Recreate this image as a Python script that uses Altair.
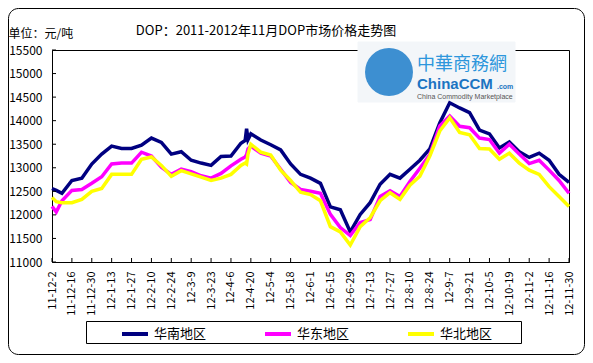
import altair as alt
import pandas as pd

FONT = "Noto Sans CJK SC"

series_names = ["华南地区", "华东地区", "华北地区"]
series_colors = ["#000080", "#FF00FF", "#FFFF00"]

dates = [
    "2011-12-02", "2011-12-05", "2011-12-09", "2011-12-16", "2011-12-23", "2011-12-30",
    "2012-01-06", "2012-01-13", "2012-01-20", "2012-01-27", "2012-02-03", "2012-02-10",
    "2012-02-17", "2012-02-24", "2012-03-02", "2012-03-09", "2012-03-16", "2012-03-23",
    "2012-03-30", "2012-04-06", "2012-04-13", "2012-04-16", "2012-04-17", "2012-04-18",
    "2012-04-20", "2012-04-27", "2012-05-04", "2012-05-11", "2012-05-18", "2012-05-25",
    "2012-06-01", "2012-06-08", "2012-06-15", "2012-06-22", "2012-06-29", "2012-07-06",
    "2012-07-13", "2012-07-20", "2012-07-27", "2012-08-03", "2012-08-10", "2012-08-17",
    "2012-08-24", "2012-08-31", "2012-09-07", "2012-09-14", "2012-09-21", "2012-09-28",
    "2012-10-05", "2012-10-12", "2012-10-19", "2012-10-26", "2012-11-02", "2012-11-09",
    "2012-11-16", "2012-11-23", "2012-11-30",
]

south = [
    12560, 12520, 12460, 12730, 12780, 13080,
    13290, 13460, 13410, 13410, 13480, 13630,
    13540, 13290, 13340, 13160, 13100, 13050,
    13240, 13250, 13520, 13580, 13830, 13600,
    13720, 13590, 13490, 13380, 13080, 12860,
    12780, 12670, 12170, 12110, 11640, 12010,
    12260, 12650, 12860, 12780, 12970, 13160,
    13400, 13950, 14380, 14270, 14170, 13800,
    13720, 13420, 13550, 13340, 13220, 13310,
    13160, 12860, 12690,
]

east = [
    12180, 12060, 12300, 12520, 12540, 12670,
    12810, 13080, 13100, 13100, 13330, 13250,
    13010, 12860, 12970, 12920, 12830, 12780,
    12880, 13040, 13180, 13230, 13280, 13400,
    13460, 13310, 13250, 12970, 12690, 12540,
    12500, 12460, 12010, 11730, 11560, 11840,
    11900, 12390, 12510, 12390, 12710, 12990,
    13280, 13890, 14100, 13880, 13850, 13630,
    13600, 13310, 13500, 13290, 13090, 13160,
    12950, 12730, 12460,
]

north = [
    12370, 12280, 12260, 12260, 12330, 12500,
    12560, 12860, 12860, 12860, 13180, 13230,
    13050, 12820, 12940, 12870, 12800, 12730,
    12780, 12860, 13050, 13100, 13080, 13290,
    13500, 13330, 13270, 12950, 12730, 12480,
    12430, 12300, 11750, 11640, 11360, 11750,
    11940, 12300, 12470, 12330, 12630, 12820,
    13250, 13780, 14060, 13750, 13700, 13410,
    13400, 13180, 13310, 13100, 12950, 12860,
    12600, 12390, 12180,
]

tick_dates = [
    "2011-12-02", "2011-12-16", "2011-12-30", "2012-01-13", "2012-01-27", "2012-02-10",
    "2012-02-24", "2012-03-09", "2012-03-23", "2012-04-06", "2012-04-20", "2012-05-04",
    "2012-05-18", "2012-06-01", "2012-06-15", "2012-06-29", "2012-07-13", "2012-07-27",
    "2012-08-10", "2012-08-24", "2012-09-07", "2012-09-21", "2012-10-05", "2012-10-19",
    "2012-11-02", "2012-11-16", "2012-11-30",
]
y_ticks = [11000, 11500, 12000, 12500, 13000, 13500, 14000, 14500, 15000, 15500]

title_text = "DOP：2011-2012年11月DOP市场价格走势图"
unit_text = "单位：元/吨"

W, H = 517, 212


def ms(d):
    return int(pd.Timestamp(d).timestamp() * 1000)


tick_ms = [ms(d) for d in tick_dates]

rows = []
for name, vals in zip(series_names, [south, east, north]):
    for d, v in zip(dates, vals):
        rows.append({"date": d, "value": v, "series": name})
df = pd.DataFrame(rows)

x_scale = alt.Scale(type="utc", domain=[tick_ms[0], tick_ms[-1]])
y_scale = alt.Scale(domain=[11000, 15500], nice=False, zero=False)

x_axis = alt.Axis(
    values=tick_ms, labelExpr="utcFormat(datum.value, '%y-%-m-%-d')", labelAngle=270,
    labelAlign="right", labelBaseline="middle", labelPadding=9, tickSize=0,
    title=None, grid=False, domainColor="black", labelFontSize=11,
    labelColor="black", labelOverlap=False, labelFlush=False, labelBound=False,
)
y_axis = alt.Axis(
    values=y_ticks, format="d", title=unit_text, titleAngle=0, titleAlign="left",
    titleBaseline="middle", titleX=-44, titleY=-17, titleFontSize=12,
    titleFontWeight="normal", titleColor="black", labelPadding=10, tickSize=0,
    grid=False, domainColor="black", labelFontSize=12, labelColor="black",
    labelOverlap=False,
)

lines = alt.Chart(df).mark_line(strokeWidth=3.5).encode(
    x=alt.X("date:T", scale=x_scale, axis=x_axis),
    y=alt.Y("value:Q", scale=y_scale, axis=y_axis),
    color=alt.Color(
        "series:N",
        scale=alt.Scale(domain=series_names, range=series_colors),
        legend=alt.Legend(
            orient="none", legendX=68, legendY=269, direction="horizontal",
            title=None, symbolType="stroke", symbolStrokeWidth=4, symbolSize=676,
            labelFontSize=13, labelColor="black", columnPadding=50, labelOffset=4,
            padding=0,
        ),
    ),
    order=alt.Order("series_order:Q"),
).transform_calculate(
    series_order="indexof(['华南地区','华东地区','华北地区'], datum.series)"
)

x_ticks_layer = alt.Chart(pd.DataFrame({"date": tick_dates})).mark_rule(
    color="black", strokeWidth=1
).encode(
    x=alt.X("date:T", scale=x_scale, axis=x_axis),
    y=alt.value(H), y2=alt.value(H - 4),
)

y_ticks_layer = alt.Chart(pd.DataFrame({"value": y_ticks})).mark_rule(
    color="black", strokeWidth=1
).encode(
    y=alt.Y("value:Q", scale=y_scale, axis=y_axis),
    x=alt.value(0), x2=alt.value(4),
)

one = pd.DataFrame({"k": [0]})

frame = alt.Chart(one).mark_rect(
    fillOpacity=0, stroke="black", strokeWidth=1, cornerRadius=10
).encode(x=alt.value(-43.5), x2=alt.value(532.5), y=alt.value(-41.5), y2=alt.value(304.5))

legend_box = alt.Chart(one).mark_rect(
    fillOpacity=0, stroke="black", strokeWidth=1
).encode(x=alt.value(34.5), x2=alt.value(469.5), y=alt.value(271.5), y2=alt.value(293.5))

title = alt.Chart(one).mark_text(
    fontSize=13, color="black", align="center", baseline="middle"
).encode(x=alt.value(214), y=alt.value(-19), text=alt.value(title_text))

logo_bg = alt.Chart(one).mark_rect(fill="#f3f6f9", stroke="#f3f6f9").encode(
    x=alt.value(306), x2=alt.value(463), y=alt.value(-8), y2=alt.value(52)
)
globe = alt.Chart(one).mark_point(
    shape="circle", filled=True, size=2300, color="#3d8fd1", opacity=1
).encode(x=alt.value(337), y=alt.value(22))
logo_cn = alt.Chart(one).mark_text(
    fontSize=18, color="#2d96dc", align="left", baseline="middle"
).encode(x=alt.value(365), y=alt.value(15), text=alt.value("中華商務網"))
logo_en = alt.Chart(one).mark_text(
    fontSize=15, fontWeight="bold", color="#1b74c2", align="left", baseline="middle",
    font="Liberation Sans",
).encode(x=alt.value(365), y=alt.value(34), text=alt.value("ChinaCCM"))
logo_com = alt.Chart(one).mark_text(
    fontSize=7, fontWeight="bold", color="#1b74c2", align="left", baseline="middle",
    font="Liberation Sans",
).encode(x=alt.value(445), y=alt.value(37), text=alt.value(".com"))
logo_sub = alt.Chart(one).mark_text(
    fontSize=7, color="#555555", align="left", baseline="middle", font="Liberation Sans",
).encode(x=alt.value(365), y=alt.value(47), text=alt.value("China Commodity Marketplace"))

chart = alt.layer(
    frame, logo_bg, globe, logo_cn, logo_en, logo_com, logo_sub,
    lines, x_ticks_layer, y_ticks_layer, legend_box, title,
).properties(
    width=W, height=H,
    autosize=alt.AutoSizeParams(type="none"),
    padding={"left": 44, "top": 42, "right": 16, "bottom": 93},
).configure(
    font=FONT,
).configure_view(
    stroke="black", strokeWidth=1,
).configure_axis(
    labelFont=FONT, titleFont=FONT,
).configure_legend(
    labelFont=FONT,
).configure_text(font=FONT)

chart.save("out.html", embed_options={"renderer": "svg", "actions": False})
